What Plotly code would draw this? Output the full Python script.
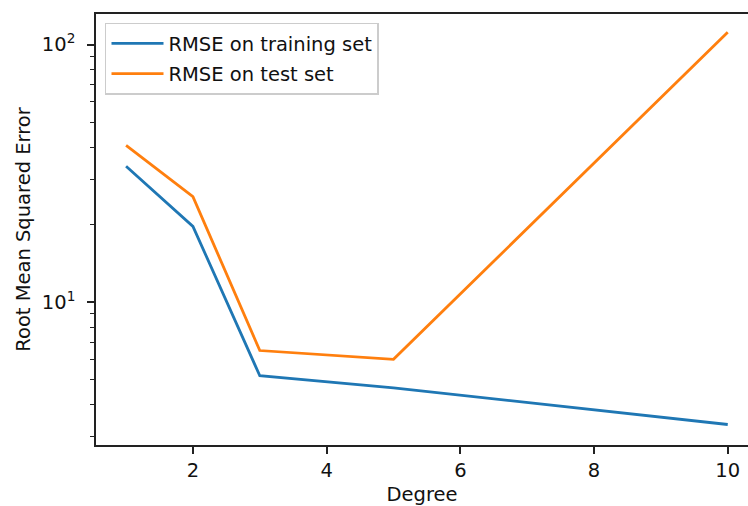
import plotly.graph_objects as go

degrees = [1, 2, 3, 5, 10]
rmse_train = [33.7, 19.7, 5.18, 4.65, 3.35]
rmse_test = [40.6, 25.7, 6.49, 6.00, 111.6]

x_ticks = [2, 4, 6, 8, 10]
y_ticks = [10, 100]
y_tick_labels = ["10<sup>1</sup>", "10<sup>2</sup>"]
y_minor = [3, 4, 5, 6, 7, 8, 9, 20, 30, 40, 50, 60, 70, 80, 90]

FONT = "DejaVu Sans"
FS = 19.5

fig = go.Figure()
fig.add_trace(go.Scatter(x=degrees, y=rmse_train, mode="lines",
                         name="RMSE on training set", legendgroup="a",
                         line=dict(color="#1f77b4", width=2.8)))
fig.add_trace(go.Scatter(x=degrees, y=rmse_test, mode="lines",
                         name="RMSE on test set", legendgroup="b",
                         line=dict(color="#ff7f0e", width=2.8)))

fig.update_layout(
    width=748, height=506,
    margin=dict(l=96, r=0, t=14, b=61),
    paper_bgcolor="white", plot_bgcolor="white",
    font=dict(family=FONT, size=FS, color="#111"),
    showlegend=True,
    legend=dict(x=0.0138, y=0.98, xanchor="left", yanchor="top",
                traceorder="grouped", tracegroupgap=2, itemwidth=52,
                bgcolor="rgba(255,255,255,0.8)", bordercolor="#cccccc",
                borderwidth=1.5, font=dict(family=FONT, size=FS, color="#111")),
    xaxis=dict(range=[0.55, 10.303], showgrid=False, zeroline=False,
               showline=True, linecolor="#222", linewidth=1.5, mirror=True,
               ticks="outside", ticklen=7, tickwidth=1.5, tickcolor="#222",
               tickmode="array", tickvals=x_ticks,
               title=dict(text="Degree", standoff=11,
                          font=dict(family=FONT, size=FS))),
    yaxis=dict(type="log", range=[0.4454, 2.119], showgrid=False,
               zeroline=False, showline=True, linecolor="#222", linewidth=1.5,
               ticks="outside", ticklen=7, tickwidth=1.5, tickcolor="#222",
               ticklabelstandoff=8,
               tickmode="array", tickvals=y_ticks, ticktext=y_tick_labels,
               minor=dict(tickmode="array", tickvals=y_minor, ticks="outside",
                          ticklen=4, tickwidth=1.2, tickcolor="#222",
                          showgrid=False),
               title=dict(text="Root Mean Squared Error", standoff=6,
                          font=dict(family=FONT, size=FS))),
)

fig.write_html("out.html")
